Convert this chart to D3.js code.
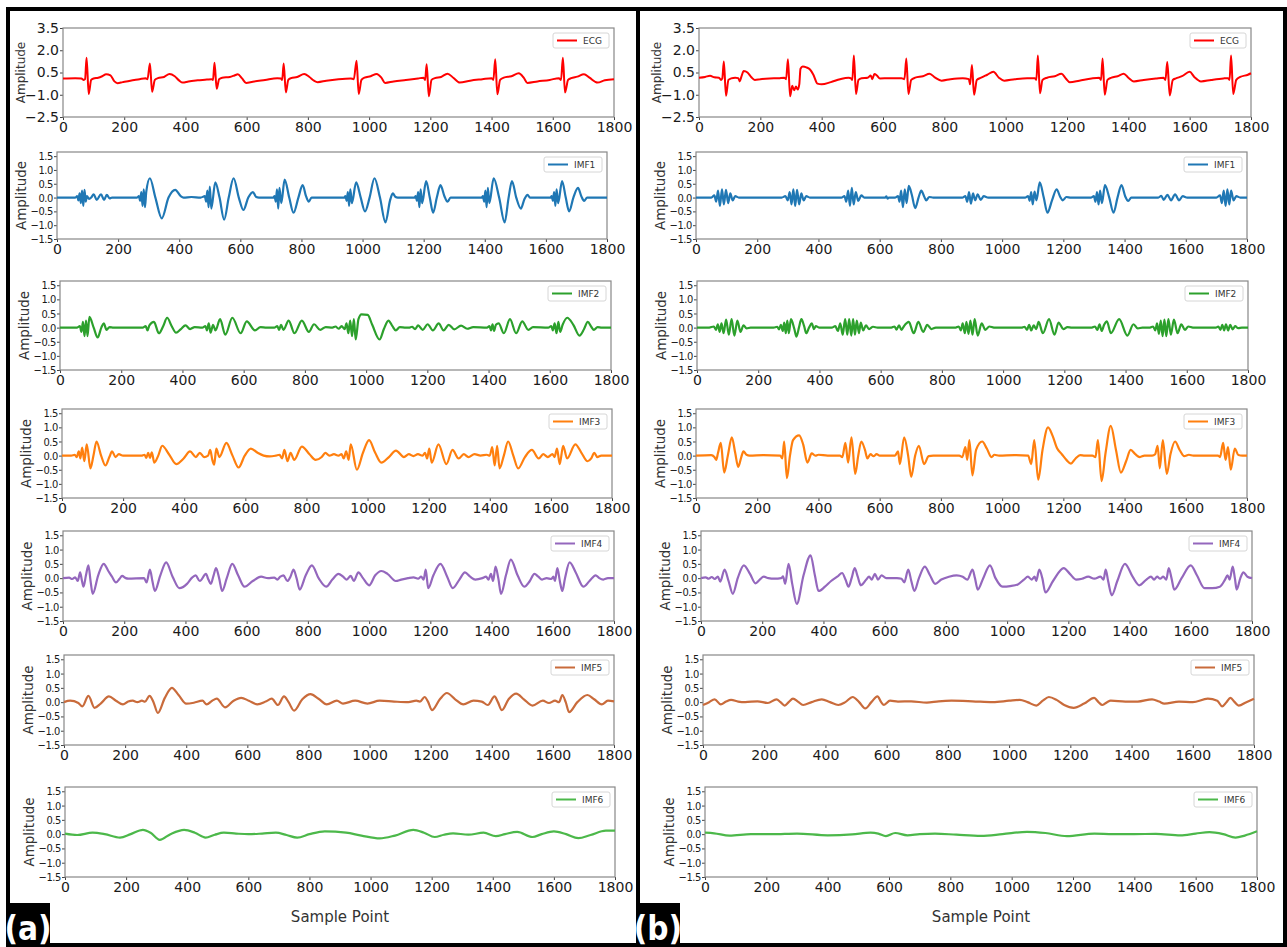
<!DOCTYPE html>
<html lang="en">
<head>
  <meta charset="UTF-8">
  <title>ECG and IMF components</title>
  <script src="https://cdn.jsdelivr.net/npm/d3@7"></script>
  <style>
    body { margin: 0; background: #fff; }
    svg { display: block; font-family: 'DejaVu Sans', sans-serif; }
  </style>
</head>
<body>
  <script>
    // tick labels
    const sampleTicks = [0, 200, 400, 600, 800, 1000, 1200, 1400, 1600, 1800];
    const ecgTicks = [3.5, 2.0, 0.5, -1.0, -2.5];
    const imfTicks = [1.5, 1.0, 0.5, 0.0, -0.5, -1.0, -1.5];
    const seriesNames = ["ECG", "IMF1", "IMF2", "IMF3", "IMF4", "IMF5", "IMF6"];
    const panelNames = ["(a)", "(b)"];

    // values, [sample, amplitude]
    const ecgA = [[0,0.1],[40,0.12],[60,0.1],[68,0.0],[72,0.05],[77,1.5],[84,-0.95],[92,0.0],[100,0.1],[115,0.15],[128,0.25],[141,0.38],[155,0.3],[168,-0.1],[178,-0.22],[195,-0.15],[220,-0.05],[250,0.05],[270,0.12],[276,0.05],[284,1.1],[291,-0.8],[300,0.0],[310,0.12],[330,0.2],[348,0.4],[365,0.25],[380,-0.05],[391,-0.18],[410,-0.1],[440,-0.03],[470,0.02],[485,0.05],[490,0.0],[495,1.15],[502,-0.6],[510,0.05],[520,0.15],[545,0.2],[560,0.3],[571,0.38],[585,0.1],[598,-0.2],[620,-0.12],[660,0.0],[700,0.12],[712,0.1],[716,0.0],[721,1.1],[728,-0.85],[736,0.0],[745,0.12],[765,0.2],[788,0.4],[805,0.2],[820,-0.05],[832,-0.15],[860,-0.05],[900,0.05],[940,0.1],[950,0.05],[959,1.3],[966,-0.95],[975,0.0],[985,0.15],[1005,0.25],[1025,0.4],[1040,0.15],[1052,-0.2],[1080,-0.1],[1120,0.0],[1160,0.1],[1178,0.15],[1183,0.0],[1188,1.05],[1195,-1.1],[1204,0.0],[1215,0.12],[1235,0.2],[1256,0.42],[1275,0.15],[1296,-0.18],[1330,-0.05],[1370,0.05],[1400,0.12],[1406,0.0],[1412,1.4],[1419,-0.97],[1428,0.0],[1440,0.15],[1465,0.25],[1489,0.45],[1505,0.15],[1517,-0.2],[1550,-0.1],[1590,0.0],[1620,0.12],[1627,0.0],[1633,1.5],[1640,-0.85],[1650,0.0],[1660,0.12],[1680,0.22],[1702,0.38],[1720,0.15],[1746,-0.18],[1770,-0.02],[1800,0.05]];
    const imf1A = [[0,0],[60,0],[66,0.05],[70,-0.1],[74,0.15],[78,-0.2],[82,0.25],[86,-0.3],[90,0.28],[94,-0.15],[98,0.05],[105,-0.05],[112,0.0],[120,0.12],[130,-0.08],[144,0.12],[154,-0.08],[163,0.1],[172,-0.03],[180,0],[262,0],[268,0.05],[272,-0.12],[276,0.2],[280,-0.3],[284,0.3],[288,-0.35],[292,0.2],[304,0.7],[322,0],[343,-0.75],[365,0],[387,0.28],[405,0.05],[414,0],[440,0.02],[470,0],[484,0.05],[488,-0.15],[492,0.25],[496,-0.35],[500,0.4],[505,-0.4],[518,0.55],[532,0],[547,-0.8],[562,0],[578,0.7],[595,0],[610,-0.45],[626,0],[641,0.2],[652,0.02],[661,0],[708,0],[712,0.05],[716,-0.15],[720,0.3],[724,-0.4],[728,0.35],[734,-0.2],[745,0.65],[760,0],[774,-0.55],[790,0],[804,0.45],[815,0.05],[824,-0.15],[833,0],[841,0],[940,0],[944,0.05],[948,-0.12],[952,0.2],[956,-0.3],[960,0.3],[965,-0.2],[979,0.55],[994,0],[1008,-0.5],[1023,0],[1039,0.7],[1057,0],[1075,-0.9],[1090,-0.1],[1099,0.15],[1108,0.02],[1115,0],[1170,0],[1174,0.05],[1178,-0.12],[1182,0.2],[1186,-0.35],[1190,0.3],[1195,-0.2],[1208,0.6],[1220,0],[1231,-0.55],[1243,0],[1255,0.45],[1268,0.05],[1278,-0.15],[1288,0],[1295,0],[1390,0],[1394,0.05],[1398,-0.15],[1402,0.25],[1406,-0.35],[1410,0.35],[1415,-0.2],[1429,0.7],[1447,0],[1465,-0.9],[1478,0],[1489,0.6],[1503,0],[1518,-0.4],[1530,-0.05],[1540,0.1],[1548,0],[1555,0],[1615,0],[1619,0.05],[1623,-0.12],[1627,0.2],[1631,-0.3],[1635,0.3],[1640,-0.2],[1653,0.6],[1665,0],[1676,-0.5],[1690,0],[1705,0.35],[1716,0.05],[1725,-0.12],[1735,0],[1742,0],[1800,0]];
    const imf2A = [[0,0],[55,0],[65,0.05],[70,-0.15],[75,0.2],[80,-0.3],[85,0.25],[90,-0.3],[96,0.38],[110,0],[123,-0.35],[135,0],[143,0.15],[152,-0.08],[162,0.02],[175,0],[270,0],[280,0.05],[286,-0.1],[292,0.08],[307,0.2],[323,-0.2],[337,0.05],[350,0.35],[365,0.05],[379,-0.18],[395,-0.05],[410,0.08],[425,-0.05],[440,0.02],[465,0],[475,0.05],[480,-0.1],[486,0.15],[492,-0.18],[500,0.1],[508,-0.1],[523,0.3],[540,-0.25],[563,0.35],[590,-0.2],[610,0.22],[637,-0.1],[655,0.02],[675,0],[700,0],[710,0.05],[716,-0.08],[722,0.1],[730,-0.08],[747,0.25],[766,-0.2],[790,0.25],[813,-0.15],[830,0.12],[850,-0.08],[868,0.02],[890,0],[900,0.04],[910,-0.04],[920,0.05],[930,-0.05],[936,0.15],[942,-0.2],[948,0.25],[954,-0.3],[960,0.3],[966,-0.42],[975,0.3],[985,0.47],[1005,0.45],[1020,0.1],[1044,-0.42],[1058,-0.05],[1073,0.25],[1086,0.05],[1097,-0.1],[1110,0.02],[1130,0],[1140,0],[1150,0.03],[1160,-0.05],[1170,0.08],[1185,-0.08],[1201,0.12],[1218,-0.1],[1237,0.15],[1253,-0.1],[1270,0.1],[1288,-0.06],[1310,0.07],[1330,-0.04],[1350,0.02],[1395,0],[1403,0.05],[1408,-0.1],[1413,0.12],[1418,-0.12],[1424,0.1],[1433,0.15],[1450,-0.2],[1470,0.3],[1490,-0.2],[1510,0.22],[1530,-0.08],[1545,0.02],[1595,0],[1605,0.05],[1610,-0.1],[1616,0.15],[1622,-0.2],[1628,0.2],[1634,-0.15],[1642,0.1],[1657,0.35],[1677,0.1],[1697,-0.28],[1712,-0.05],[1724,0.2],[1736,0.02],[1744,-0.08],[1756,0.02],[1770,0],[1800,0]];
    const imf3A = [[0,0],[30,0],[42,0.03],[48,-0.05],[55,0.15],[60,-0.1],[66,0.28],[73,-0.2],[81,0.4],[93,-0.45],[103,0],[113,0.5],[128,0],[142,-0.35],[155,-0.05],[164,0.15],[175,-0.05],[186,0.05],[200,0],[260,0],[270,0.03],[276,-0.08],[282,0.1],[288,-0.08],[294,0.12],[302,-0.25],[315,0],[328,0.35],[350,0.05],[374,-0.3],[398,-0.1],[419,0.15],[438,-0.05],[451,0.1],[465,-0.05],[478,0.0],[485,0.2],[492,-0.15],[498,-0.32],[505,0.25],[515,-0.05],[538,0.45],[558,0],[578,-0.42],[598,0],[618,0.25],[640,0.1],[660,0.0],[680,-0.03],[700,0],[712,0.03],[720,-0.1],[728,0.2],[738,-0.2],[748,0.1],[760,-0.15],[785,0.32],[810,0.05],[830,-0.15],[850,-0.05],[862,0.1],[875,0.0],[890,0.05],[905,0],[915,0.05],[922,-0.1],[930,0.15],[938,-0.15],[945,0.4],[965,-0.5],[985,0.1],[1005,0.55],[1025,0.1],[1045,-0.25],[1070,-0.05],[1093,0.18],[1119,-0.05],[1135,0.05],[1150,-0.02],[1165,0.05],[1180,0.0],[1188,0.1],[1195,-0.1],[1202,0.25],[1210,-0.25],[1232,0.4],[1258,-0.3],[1278,0.2],[1298,-0.1],[1315,0.05],[1330,-0.05],[1350,0.05],[1370,0.0],[1390,0.03],[1400,0],[1408,0.3],[1416,-0.35],[1424,0.35],[1432,-0.45],[1446,0],[1460,0.5],[1477,0.0],[1493,-0.45],[1515,-0.05],[1538,0.2],[1560,-0.1],[1575,0.05],[1590,-0.05],[1605,0.05],[1612,-0.05],[1620,0.25],[1629,-0.3],[1640,0.35],[1653,-0.1],[1680,0.4],[1700,0.1],[1720,-0.2],[1732,-0.1],[1742,0.1],[1752,-0.05],[1765,0],[1800,0]];
    const imf4A = [[0,0],[20,0.02],[30,-0.03],[40,0.03],[48,-0.1],[56,0.2],[62,-0.1],[67,-0.3],[75,0.1],[83,0.45],[90,-0.1],[97,-0.55],[115,0.1],[133,0.5],[148,0.25],[160,0.05],[173,-0.15],[185,-0.02],[193,0.08],[205,0.0],[213,-0.02],[265,0],[273,-0.15],[284,0.3],[292,-0.1],[300,-0.45],[318,0.1],[337,0.55],[358,0.05],[380,-0.35],[405,-0.2],[420,0.0],[433,0.1],[447,-0.1],[467,0.15],[475,-0.05],[483,-0.2],[492,0.1],[500,0.35],[510,0],[520,-0.45],[535,0.0],[553,0.5],[572,0.1],[593,-0.3],[620,-0.1],[647,0.05],[670,0.0],[690,0.02],[700,-0.05],[710,0.05],[720,0.1],[733,-0.1],[743,0.05],[753,0.3],[763,0],[773,-0.4],[793,0.1],[813,0.45],[835,0],[860,-0.3],[880,-0.05],[900,0.15],[915,0.05],[927,-0.05],[940,0.08],[950,-0.1],[965,0.2],[980,0],[1000,-0.25],[1020,0.1],[1040,0.25],[1060,0.15],[1087,-0.1],[1105,-0.05],[1127,0.0],[1145,0.03],[1160,-0.02],[1170,0.05],[1178,-0.05],[1185,0.3],[1193,-0.35],[1210,0.1],[1233,0.5],[1255,0.05],[1273,-0.35],[1295,-0.05],[1313,0.2],[1330,0.05],[1347,-0.05],[1370,0.0],[1382,0.05],[1390,-0.05],[1398,0.15],[1405,-0.1],[1413,0.4],[1422,0],[1431,-0.55],[1447,0.1],[1463,0.65],[1485,0.1],[1507,-0.3],[1525,-0.1],[1540,0.15],[1553,0.05],[1565,-0.05],[1580,0.0],[1595,-0.03],[1602,0.05],[1607,-0.1],[1615,0.35],[1623,-0.1],[1631,-0.45],[1640,0],[1655,0.55],[1675,0.2],[1700,-0.3],[1720,-0.1],[1740,0.1],[1752,0.0],[1765,-0.05],[1780,0.0],[1800,0.0]];
    const imf5A = [[0,0.0],[20,0.05],[47,-0.03],[60,-0.15],[80,0.22],[100,-0.2],[120,-0.05],[147,0.2],[170,0.05],[193,-0.08],[210,0.02],[225,0.05],[240,0.0],[255,0.05],[265,0.02],[280,0.22],[293,0.0],[307,-0.38],[330,0.15],[353,0.5],[375,0.25],[400,-0.05],[425,-0.02],[453,0.05],[467,-0.08],[485,0.05],[500,0.12],[527,-0.18],[555,0.05],[580,0.15],[605,0.05],[633,-0.08],[660,0.02],[680,0.12],[700,-0.1],[720,0.2],[735,0],[753,-0.3],[780,0.1],[807,0.28],[833,0.12],[860,-0.08],[893,0.05],[913,-0.05],[953,0.05],[993,-0.05],[1033,0.05],[1080,0.02],[1127,0.0],[1153,0.05],[1165,0.02],[1180,0.18],[1192,0],[1204,-0.28],[1230,0.1],[1253,0.32],[1280,0.1],[1307,-0.08],[1340,0.05],[1367,0.02],[1387,-0.1],[1409,0.2],[1420,0],[1433,-0.28],[1455,0.1],[1480,0.3],[1505,0.1],[1533,-0.12],[1567,0.05],[1587,-0.03],[1607,0.05],[1620,0.0],[1631,0.25],[1642,0],[1653,-0.35],[1680,0.0],[1713,0.25],[1735,0.1],[1760,-0.08],[1780,0.05],[1800,0.03]];
    const imf6A = [[0,0.02],[40,-0.03],[90,0.05],[130,0.0],[180,-0.12],[215,0.0],[255,0.15],[280,0.05],[310,-0.2],[345,0.0],[390,0.15],[425,0.05],[460,-0.12],[490,-0.02],[520,0.05],[560,0.02],[600,0.0],[645,0.02],[690,0.05],[725,-0.03],[760,-0.12],[800,0.0],[850,0.1],[920,0.05],[970,-0.05],[1030,-0.15],[1080,-0.05],[1140,0.15],[1175,0.05],[1210,-0.1],[1240,-0.02],[1270,0.03],[1320,-0.02],[1370,0.05],[1410,-0.07],[1440,0.0],[1480,0.08],[1530,-0.1],[1560,0.0],[1600,0.1],[1640,0.0],[1680,-0.14],[1720,-0.03],[1770,0.12],[1800,0.12]];

    const ecgB = [[0,0.15],[20,0.2],[36,0.28],[50,0.18],[65,0.15],[72,0.0],[76,0.1],[81,1.25],[88,-1.07],[96,0.0],[105,0.1],[118,0.15],[128,0.12],[133,-0.1],[138,0.2],[146,0.6],[158,0.5],[170,0.2],[182,0.0],[200,0.05],[230,0.1],[260,0.12],[278,0.15],[284,0.05],[290,1.4],[297,-1.1],[304,-0.4],[310,-0.7],[316,-0.45],[322,-0.65],[327,-0.3],[331,0.75],[338,0.9],[350,0.85],[362,0.7],[373,0.35],[386,-0.25],[400,-0.3],[430,-0.15],[460,0.05],[488,0.15],[496,0.1],[500,0.0],[505,1.65],[512,-0.95],[520,0.0],[530,0.12],[550,0.15],[560,0.3],[565,0.05],[572,0.4],[580,0.3],[590,0.1],[620,0.12],[660,0.12],[670,0.05],[676,1.45],[683,-0.95],[692,0.0],[705,0.15],[730,0.25],[752,0.42],[770,0.15],[791,-0.05],[820,0.05],[860,0.12],[880,0.05],[884,-0.3],[890,1.0],[897,-1.0],[906,0.0],[920,0.15],[940,0.35],[960,0.55],[978,0.15],[995,-0.05],[1030,0.05],[1070,0.12],[1095,0.12],[1100,0.0],[1105,1.65],[1112,-0.9],[1120,0.0],[1135,0.15],[1160,0.25],[1182,0.42],[1196,0.1],[1209,-0.15],[1240,-0.05],[1280,0.1],[1305,0.15],[1311,0.0],[1316,1.45],[1323,-1.0],[1332,0.0],[1345,0.15],[1365,0.25],[1385,0.42],[1400,0.15],[1418,-0.1],[1450,0.0],[1490,0.1],[1515,0.15],[1521,0.0],[1527,1.2],[1535,-1.05],[1545,0.0],[1555,0.1],[1575,0.25],[1600,0.55],[1615,0.2],[1637,-0.1],[1670,0.0],[1710,0.1],[1725,0.12],[1730,0.0],[1735,1.65],[1742,-0.95],[1752,0.0],[1765,0.2],[1790,0.35],[1800,0.45]];
    const imf1B = [[0,0],[50,0],[60,0.08],[66,-0.15],[72,0.25],[78,-0.3],[85,0.3],[91,-0.25],[98,0.28],[105,-0.2],[112,0.15],[120,-0.1],[128,0.05],[140,0],[280,0],[292,0.05],[300,-0.1],[306,0.2],[312,-0.25],[318,0.3],[324,-0.3],[330,0.28],[337,-0.25],[344,0.15],[352,-0.1],[360,0.05],[372,0],[475,0],[485,0.05],[491,-0.15],[497,0.25],[503,-0.3],[509,0.35],[515,-0.25],[522,0.2],[530,-0.12],[540,0.08],[550,0],[618,0],[622,0.04],[626,-0.04],[630,0],[650,0],[660,0.05],[665,-0.15],[670,0.25],[676,-0.35],[682,0.3],[688,-0.2],[695,0.42],[705,0.1],[716,-0.38],[727,0],[736,0.25],[745,0.05],[752,-0.1],[762,0.02],[775,0],[870,0],[880,0.05],[886,-0.15],[892,0.2],[898,-0.22],[905,0.15],[912,-0.1],[920,0.12],[930,-0.08],[940,0.05],[955,0],[1075,0],[1085,0.05],[1090,-0.12],[1095,0.2],[1100,-0.25],[1106,0.22],[1112,-0.1],[1123,0.55],[1136,0],[1148,-0.55],[1163,-0.1],[1178,0.3],[1190,0.02],[1198,-0.1],[1210,0.02],[1225,0],[1290,0],[1300,0.05],[1305,-0.15],[1310,0.2],[1315,-0.25],[1320,0.25],[1326,-0.2],[1336,0.45],[1350,0],[1364,-0.55],[1377,0],[1390,0.45],[1402,0.05],[1412,-0.12],[1422,0],[1430,0],[1510,0],[1520,0.06],[1528,-0.08],[1540,0.1],[1552,-0.1],[1565,0.12],[1578,-0.1],[1590,0.05],[1605,0],[1700,0],[1712,0.08],[1718,-0.2],[1724,0.25],[1730,-0.3],[1736,0.3],[1742,-0.25],[1748,0.25],[1756,-0.1],[1765,0.05],[1778,0],[1800,0]];
    const imf2B = [[0,0],[40,0],[55,0.04],[62,-0.08],[68,0.12],[74,-0.15],[80,0.15],[87,-0.2],[95,0.28],[104,-0.25],[113,0.3],[122,-0.28],[132,0.25],[142,-0.15],[152,0.08],[162,-0.03],[175,0],[250,0],[262,0.03],[268,-0.06],[274,0.1],[280,-0.12],[285,0.18],[290,-0.2],[295,0.25],[300,-0.2],[307,0.3],[318,-0.05],[325,-0.32],[333,0],[341,0.3],[350,0.05],[357,-0.2],[366,0],[375,0.15],[382,-0.05],[388,0.05],[400,0],[440,0],[452,0.05],[460,-0.12],[468,0.15],[476,-0.25],[484,0.3],[491,-0.25],[497,0.3],[504,-0.28],[510,0.3],[516,-0.25],[522,0.25],[529,-0.2],[535,0.18],[543,-0.1],[552,0.08],[562,-0.05],[575,0.03],[590,0],[635,0],[645,0.04],[652,-0.07],[660,0.08],[668,-0.08],[676,0.05],[692,0.2],[708,-0.2],[723,0.2],[739,-0.15],[752,0.1],[766,-0.05],[780,0],[845,0],[855,0.04],[862,-0.1],[868,0.15],[875,-0.2],[880,0.2],[887,-0.22],[893,0.25],[900,-0.25],[907,0.3],[917,-0.28],[930,0.15],[942,-0.08],[955,0.04],[970,0],[1060,0],[1070,0.03],[1078,-0.08],[1085,0.1],[1092,-0.1],[1100,0.08],[1108,-0.05],[1116,0.2],[1130,-0.2],[1150,0.3],[1168,-0.25],[1181,0.18],[1197,-0.05],[1210,0.02],[1225,0],[1290,0],[1300,0.04],[1308,-0.08],[1315,0.12],[1322,-0.12],[1330,0.1],[1339,0.22],[1352,-0.2],[1379,0.3],[1406,-0.28],[1426,0.12],[1440,-0.03],[1455,0],[1480,0],[1490,0.04],[1497,-0.1],[1503,0.15],[1509,-0.22],[1515,0.25],[1521,-0.3],[1527,0.28],[1533,-0.3],[1540,0.3],[1548,-0.25],[1558,0.28],[1570,-0.2],[1582,0.12],[1594,-0.08],[1605,0.04],[1620,0],[1695,0],[1703,0.04],[1710,-0.08],[1716,0.1],[1722,-0.1],[1728,0.12],[1735,-0.1],[1742,0.1],[1750,-0.06],[1758,0.05],[1768,-0.02],[1780,0],[1800,0]];
    const imf3B = [[0,0],[50,0.02],[60,-0.05],[66,-0.15],[72,0.1],[81,0.45],[92,-0.6],[104,0],[117,0.65],[128,0.1],[138,-0.4],[148,-0.05],[155,0.15],[165,0.03],[175,0],[220,0.02],[275,0],[282,-0.1],[288,0.5],[297,-0.8],[307,0],[317,0.55],[337,0.72],[350,0.4],[364,-0.25],[378,0.08],[390,0],[400,0.03],[430,0],[470,0],[478,-0.05],[488,0.45],[497,-0.25],[508,0.65],[520,-0.65],[530,0],[540,0.5],[552,0.2],[560,-0.1],[570,0.05],[580,-0.02],[590,0.05],[600,0],[650,0],[660,0.15],[666,-0.3],[680,0.65],[693,0],[703,-0.75],[716,0],[728,0.35],[745,-0.3],[760,-0.02],[775,0],[860,0],[870,-0.05],[880,0.3],[886,-0.15],[893,0.55],[903,-0.7],[915,0.2],[935,0.5],[950,0.25],[965,-0.05],[975,0.03],[990,0],[1040,0.02],[1085,0],[1095,-0.3],[1105,0.55],[1118,-0.85],[1132,0.2],[1150,1.0],[1165,0.7],[1180,0.25],[1195,0.05],[1210,-0.15],[1225,-0.28],[1240,-0.1],[1255,0.02],[1270,0],[1295,0],[1305,-0.05],[1313,0.55],[1325,-0.9],[1338,0.1],[1355,1.05],[1372,0.2],[1388,-0.6],[1405,-0.2],[1420,0.2],[1435,0.05],[1450,-0.05],[1465,0],[1490,0],[1500,0.05],[1508,0.35],[1515,-0.45],[1525,0.55],[1538,-0.65],[1550,0.05],[1565,0.5],[1580,0.2],[1595,-0.02],[1610,0.03],[1625,0],[1705,0],[1712,-0.05],[1722,0.45],[1730,-0.15],[1738,0.3],[1747,-0.5],[1760,0.25],[1772,0.02],[1785,0],[1800,0]];
    const imf4B = [[0,0],[15,0.03],[25,-0.02],[35,0.04],[45,-0.03],[55,0.05],[63,-0.12],[77,0.3],[90,-0.1],[104,-0.55],[120,0],[140,0.45],[160,0.15],[178,-0.18],[192,-0.05],[205,0.05],[220,0],[240,-0.02],[262,0.0],[268,0.06],[275,-0.2],[286,0.5],[298,-0.2],[313,-0.9],[335,0.1],[358,0.8],[372,0.1],[384,-0.45],[405,-0.3],[425,-0.1],[445,0.05],[461,0.18],[472,-0.05],[482,-0.3],[492,0],[502,0.35],[512,0.05],[522,-0.25],[540,-0.05],[549,0.05],[558,-0.05],[568,0.15],[578,-0.05],[590,0.1],[605,0.0],[640,0.0],[655,-0.02],[664,-0.15],[677,0.3],[687,-0.1],[697,-0.45],[712,0],[731,0.4],[748,0.1],[765,-0.2],[785,-0.05],[810,0.05],[835,0.1],[855,0.05],[870,-0.05],[887,0.3],[895,0],[904,-0.4],[922,0],[944,0.45],[962,0],[985,-0.3],[1010,-0.28],[1035,-0.22],[1055,-0.05],[1068,0.05],[1080,-0.05],[1090,0.05],[1095,-0.1],[1105,0.3],[1115,0],[1125,-0.5],[1150,-0.1],[1185,0.35],[1205,0.15],[1225,-0.05],[1245,-0.02],[1265,0.05],[1285,-0.02],[1305,0.05],[1315,-0.05],[1322,0.3],[1330,-0.1],[1342,-0.6],[1360,-0.1],[1385,0.5],[1410,0.05],[1432,-0.25],[1455,-0.05],[1470,0.05],[1480,-0.05],[1490,0.05],[1500,-0.02],[1510,0.05],[1520,-0.05],[1528,0.35],[1537,0],[1546,-0.4],[1570,0],[1600,0.45],[1620,0.1],[1645,-0.35],[1670,-0.35],[1695,-0.3],[1712,-0.05],[1720,0.1],[1727,-0.05],[1737,0.4],[1744,0],[1750,-0.4],[1762,0],[1772,0.2],[1785,0.05],[1800,0.0]];
    const imf5B = [[0,-0.1],[20,0.0],[38,0.1],[58,-0.08],[75,0.02],[92,0.08],[115,0.02],[138,0.0],[178,0.03],[212,-0.03],[240,0.1],[253,0.0],[267,-0.12],[280,0.0],[294,0.12],[310,0.02],[327,-0.1],[355,0.0],[388,0.1],[415,0.0],[442,-0.1],[465,0.0],[489,0.18],[510,0.0],[530,-0.22],[550,0.0],[570,0.2],[582,0.0],[591,-0.1],[611,0.05],[637,0.02],[680,0.03],[731,-0.02],[770,0.03],[812,0.05],[880,0.03],[947,0.0],[1000,0.05],[1035,0.08],[1060,0.0],[1089,-0.12],[1110,0.05],[1130,0.18],[1155,0.08],[1180,-0.1],[1211,-0.2],[1245,-0.05],[1278,0.15],[1292,0.0],[1305,-0.1],[1320,0.0],[1332,0.05],[1380,0.02],[1420,0.02],[1467,0.1],[1490,0.02],[1507,-0.05],[1555,0.02],[1600,0.0],[1649,0.12],[1680,0.05],[1696,-0.15],[1710,0.0],[1723,0.15],[1737,0.0],[1750,-0.12],[1775,0.0],[1800,0.12]];
    const imf6B = [[0,0.05],[30,0.03],[80,-0.05],[150,0.0],[220,0.0],[300,0.02],[400,-0.04],[480,-0.01],[540,0.05],[565,0.02],[590,-0.07],[620,0.04],[660,-0.04],[700,0.0],[750,0.02],[820,-0.02],[900,-0.06],[970,0.0],[1050,0.08],[1110,0.04],[1180,-0.07],[1270,0.02],[1330,0.0],[1400,0.0],[1470,0.01],[1550,-0.04],[1600,0.02],[1645,0.07],[1690,0.0],[1730,-0.12],[1760,-0.05],[1800,0.1]];

    const panelSeries = [
      [ecgA, imf1A, imf2A, imf3A, imf4A, imf5A, imf6A],
      [ecgB, imf1B, imf2B, imf3B, imf4B, imf5B, imf6B]
    ];

    // layout and style
    const width = 1287, height = 947;
    const colors = ["#ff0000", "#1f77b4", "#2ca02c", "#ff7f0e", "#9467bd", "#c96b3b", "#4cb84a"];
    const rowTop = [28, 152, 281, 409, 531, 655, 787];
    const rowBottom = [117, 239, 370, 498, 621, 745, 877];
    const layout = [
      { frame: [8, 630], lefts: [63, 57, 60, 62, 63, 64, 65], rights: [614, 607, 611, 612, 614, 614, 615], tag: 7 },
      { frame: [638, 647], lefts: [699, 696, 697, 696, 701, 703, 705], rights: [1251, 1247, 1248, 1247, 1252, 1254, 1257], tag: 637 }
    ];

    const svg = d3.select("body").append("svg")
        .attr("width", width)
        .attr("height", height);

    svg.append("rect").attr("width", width).attr("height", height).attr("fill", "#fff");

    const fmt = d3.format(".1f");

    layout.forEach((p, pi) => {
      seriesNames.forEach((name, i) => {
        const isEcg = i === 0;
        const left = p.lefts[i], right = p.rights[i];
        const top = rowTop[i], bottom = rowBottom[i];

        const x = d3.scaleLinear().domain([0, 1800]).range([left, right]);
        const y = d3.scaleLinear()
            .domain(isEcg ? [-2.5, 3.5] : [-1.5, 1.65])
            .range([bottom, top]);

        const g = svg.append("g");

        // x axis
        g.append("g")
            .attr("transform", `translate(0,${bottom})`)
            .call(d3.axisBottom(x).tickValues(sampleTicks).tickSize(3).tickPadding(2).tickFormat(d3.format("d")))
            .call(a => a.select(".domain").remove())
            .call(a => a.selectAll("line").attr("stroke", "#444"))
            .call(a => a.selectAll("text")
                .attr("fill", "#1a1a1a")
                .attr("font-size", 14)
                .attr("font-family", "'DejaVu Sans', sans-serif"));

        // y axis
        g.append("g")
            .attr("transform", `translate(${left},0)`)
            .call(d3.axisLeft(y).tickValues(isEcg ? ecgTicks : imfTicks).tickSize(3).tickPadding(1).tickFormat(fmt))
            .call(a => a.select(".domain").remove())
            .call(a => a.selectAll("line").attr("stroke", "#444"))
            .call(a => a.selectAll("text")
                .attr("fill", "#1a1a1a")
                .attr("font-size", isEcg ? 14 : 11)
                .attr("letter-spacing", isEcg ? null : "-0.4px")
                .attr("font-family", isEcg ? "'DejaVu Sans', sans-serif" : "'DejaVu Sans Condensed', 'DejaVu Sans', sans-serif"));

        // frame
        g.append("rect")
            .attr("x", left).attr("y", top)
            .attr("width", right - left).attr("height", bottom - top)
            .attr("fill", "none")
            .attr("stroke", "#888")
            .attr("stroke-width", 1.2);

        // signal
        const line = d3.line()
            .x(d => x(d[0]))
            .y(d => y(d[1]))
            .curve(d3.curveMonotoneX);

        g.append("path")
            .datum(panelSeries[pi][i])
            .attr("fill", "none")
            .attr("stroke", colors[i])
            .attr("stroke-width", isEcg ? 2 : 2.2)
            .attr("stroke-linejoin", "round")
            .attr("d", line);

        // y label
        const ly = (top + bottom) / 2;
        const lx = left - (isEcg ? 42 : 36);
        g.append("text")
            .attr("transform", `translate(${lx},${ly}) rotate(-90)`)
            .attr("text-anchor", "middle")
            .attr("dy", "0.35em")
            .attr("fill", "#333")
            .attr("font-size", isEcg ? 12 : 13.5)
            .text("Amplitude");

        // legend
        const bw = isEcg ? 56 : 58, bh = 15;
        const bx = right - 5 - bw, by = top + 5;
        const leg = g.append("g");
        leg.append("rect")
            .attr("x", bx).attr("y", by)
            .attr("width", bw).attr("height", bh)
            .attr("rx", 2)
            .attr("fill", "#fff")
            .attr("stroke", "#d6d6d6");
        leg.append("line")
            .attr("x1", bx + 4).attr("x2", bx + 24)
            .attr("y1", by + bh / 2).attr("y2", by + bh / 2)
            .attr("stroke", colors[i])
            .attr("stroke-width", 2);
        leg.append("text")
            .attr("x", bx + 30)
            .attr("y", by + bh / 2)
            .attr("dy", "0.35em")
            .attr("font-size", 9)
            .attr("fill", "#333")
            .text(name);
      });

      // x label
      const cx = (p.lefts[6] + p.rights[6]) / 2;
      svg.append("text")
          .attr("x", cx)
          .attr("y", 922)
          .attr("text-anchor", "middle")
          .attr("font-size", 15)
          .attr("fill", "#333")
          .text("Sample Point");

      // panel border
      svg.append("rect")
          .attr("x", p.frame[0]).attr("y", 9)
          .attr("width", p.frame[1]).attr("height", 936)
          .attr("fill", "none")
          .attr("stroke", "#000")
          .attr("stroke-width", 4);

      // panel tag
      svg.append("rect")
          .attr("x", p.tag).attr("y", 903)
          .attr("width", 43).attr("height", 44)
          .attr("fill", "#000");
      svg.append("text")
          .attr("x", p.tag + 21)
          .attr("y", 940)
          .attr("text-anchor", "middle")
          .attr("font-size", 33)
          .attr("font-weight", "bold")
          .attr("font-family", "'DejaVu Sans Condensed', 'DejaVu Sans', sans-serif")
          .attr("fill", "#fff")
          .text(panelNames[pi]);
    });
  </script>
</body>
</html>
